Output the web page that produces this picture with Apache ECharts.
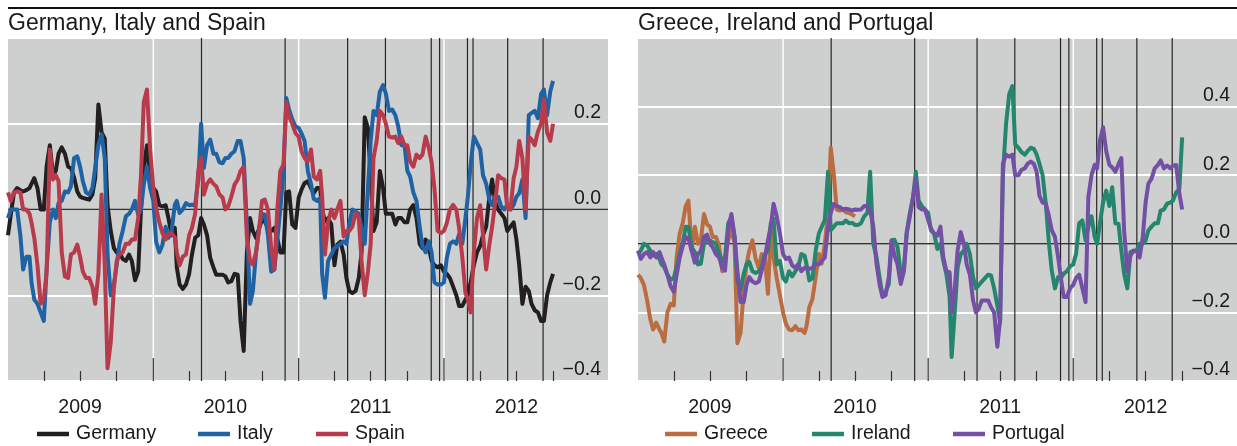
<!DOCTYPE html>
<html><head><meta charset="utf-8">
<script src="https://cdn.jsdelivr.net/npm/echarts@6/dist/echarts.min.js"></script>
<style>html,body{margin:0;padding:0;background:#fff}#c{width:1237px;height:446px}</style>
</head><body><div id="c"></div>
<script>
const dates = [
'2009-01-01','2009-01-08','2009-01-16','2009-01-24','2009-02-01','2009-02-08','2009-02-16','2009-02-24','2009-03-01','2009-03-08','2009-03-16','2009-03-24',
'2009-04-01','2009-04-08','2009-04-16','2009-04-24','2009-05-01','2009-05-08','2009-05-16','2009-05-24','2009-06-01','2009-06-08','2009-06-16','2009-06-24',
'2009-07-01','2009-07-08','2009-07-16','2009-07-24','2009-08-01','2009-08-08','2009-08-16','2009-08-24','2009-09-01','2009-09-08','2009-09-16','2009-09-24',
'2009-10-01','2009-10-08','2009-10-16','2009-10-24','2009-11-01','2009-11-08','2009-11-16','2009-11-24','2009-12-01','2009-12-08','2009-12-16','2009-12-24',
'2010-01-01','2010-01-08','2010-01-16','2010-01-24','2010-02-01','2010-02-08','2010-02-16','2010-02-24','2010-03-01','2010-03-08','2010-03-16','2010-03-24',
'2010-04-01','2010-04-08','2010-04-16','2010-04-24','2010-05-01','2010-05-08','2010-05-16','2010-05-24','2010-06-01','2010-06-08','2010-06-16','2010-06-24',
'2010-07-01','2010-07-08','2010-07-16','2010-07-24','2010-08-01','2010-08-08','2010-08-16','2010-08-24','2010-09-01','2010-09-08','2010-09-16','2010-09-24',
'2010-10-01','2010-10-08','2010-10-16','2010-10-24','2010-11-01','2010-11-08','2010-11-16','2010-11-24','2010-12-01','2010-12-08','2010-12-16','2010-12-24',
'2011-01-01','2011-01-08','2011-01-16','2011-01-24','2011-02-01','2011-02-08','2011-02-16','2011-02-24','2011-03-01','2011-03-08','2011-03-16','2011-03-24',
'2011-04-01','2011-04-08','2011-04-16','2011-04-24','2011-05-01','2011-05-08','2011-05-16','2011-05-24','2011-06-01','2011-06-08','2011-06-16','2011-06-24',
'2011-07-01','2011-07-08','2011-07-16','2011-07-24','2011-08-01','2011-08-08','2011-08-16','2011-08-24','2011-09-01','2011-09-08','2011-09-16','2011-09-24',
'2011-10-01','2011-10-08','2011-10-16','2011-10-24','2011-11-01','2011-11-08','2011-11-16','2011-11-24','2011-12-01','2011-12-08','2011-12-16','2011-12-24',
'2012-01-01','2012-01-08','2012-01-16','2012-01-24','2012-02-01','2012-02-08','2012-02-16','2012-02-24','2012-03-01','2012-03-08','2012-03-16','2012-03-24',
'2012-04-01','2012-04-08','2012-04-16','2012-04-24','2012-05-01','2012-05-08','2012-05-16','2012-05-24','2012-06-01','2012-06-08','2012-06-16','2012-06-24',
'2012-07-01','2012-07-08','2012-07-16','2012-07-24','2012-08-01','2012-08-08','2012-08-16','2012-08-24','2012-09-01','2012-09-08','2012-09-16','2012-09-24',
'2012-10-01'];

const germany = [
-0.06,-0.012,0.04,0.05, 0.045,0.042,0.045,0.05, 0.06,0.073,0.05,0.0, 0.0,0.1,0.15,0.08, 0.09,0.13,0.145,0.13, 0.10,0.097,0.075,0.042,
0.03,0.027,0.025,0.023, 0.035,0.073,0.245,0.18, 0.165,0.01,-0.05,-0.09, -0.1,-0.1,-0.115,-0.12, -0.105,-0.12,-0.165,-0.145, 0.0,0.1,0.15,0.073,
0.05,0.042,0.01,0.007, 0.01,-0.02,-0.06,-0.043, -0.135,-0.175,-0.185,-0.175, -0.15,-0.105,-0.066,-0.06, -0.02,-0.035,-0.06,-0.113, -0.135,-0.152,-0.152,-0.152,
-0.156,-0.17,-0.167,-0.15, -0.152,-0.26,-0.33,-0.1, -0.02,-0.05,-0.066,-0.043, -0.024,-0.028,-0.043,-0.05, -0.043,-0.066,-0.1,-0.1, 0.04,0.042,-0.035,-0.043,
0.027,0.046,0.062,0.066, 0.05,0.038,0.05,0.05, 0.0,-0.028,-0.02,-0.035, -0.13,-0.082,-0.075,-0.105, -0.16,-0.19,-0.195,-0.19, -0.16,-0.1,0.215,0.19,
0.075,-0.05,-0.03,0.09, 0.05,-0.01,-0.01,-0.01, -0.035,-0.02,-0.02,-0.03, -0.03,0.0,0.01,-0.02, -0.08,-0.09,-0.07,-0.09, -0.12,-0.13,-0.135,-0.13,
-0.145,-0.15,-0.16,-0.18, -0.2,-0.225,-0.225,-0.21, -0.2,-0.17,-0.13,-0.1, -0.085,-0.06,-0.04,0.03, 0.07,0.02,0.0,-0.01, -0.02,-0.05,-0.04,-0.03,
-0.07,-0.13,-0.22,-0.18, -0.19,-0.22,-0.235,-0.24, -0.26,-0.26,-0.2,-0.17,
-0.15];
const italy = [
-0.02,0.0,0.0,0.0, -0.06,-0.14,-0.11,-0.11, -0.17,-0.21,-0.22,-0.24, -0.26,-0.14,-0.03,0.0, -0.02,0.015,0.02,0.042, 0.04,0.054,0.12,0.124,
0.1,0.066,0.04,0.035, 0.05,0.097,0.15,0.175, 0.12,-0.105,-0.2,-0.175, -0.13,-0.08,-0.05,-0.016, -0.01,0.0,0.02,-0.012, 0.0,0.058,0.1,0.05,
0.02,-0.075,-0.1,-0.082, -0.04,-0.066,-0.05,0.011, 0.02,-0.008,0.0,0.015, 0.01,0.011,0.01,0.07, 0.2,0.097,0.15,0.163, 0.13,0.13,0.11,0.108,
0.12,0.12,0.13,0.136, 0.16,0.16,0.12,-0.035, -0.22,-0.19,-0.1,-0.043, -0.01,-0.012,-0.06,-0.145, -0.14,-0.074,0.0,0.09, 0.26,0.233,0.21,0.194,
0.19,0.178,0.16,0.09, 0.06,0.025,0.02,0.027, -0.15,-0.206,-0.12,-0.105, -0.09,-0.086,-0.08,-0.074, -0.08,-0.035,0.0,-0.004, -0.01,-0.043,-0.08,0.05,
0.16,0.23,0.22,0.275, 0.29,0.27,0.23,0.233, 0.22,0.194,0.15,0.15, 0.09,0.077,0.04,0.02, -0.04,-0.086,-0.1,-0.074, -0.1,-0.17,-0.175,-0.175,
-0.17,-0.113,-0.08,-0.074, -0.08,-0.058,-0.08,-0.02, 0.03,0.105,0.17,0.155, 0.14,0.08,0.06,0.023, 0.01,0.03,0.03,0.007, 0.0,0.011,0.0,0.011,
0.03,0.038,0.07,-0.02, 0.22,0.225,0.23,0.213, 0.27,0.28,0.22,0.275,
0.3];
const spain = [
0.04,0.02,0.04,0.042, 0.04,0.0,0.0,-0.01, -0.03,-0.066,-0.13,-0.22, -0.21,-0.145,0.14,0.07, 0.08,0.066,-0.1,-0.156, -0.16,-0.105,-0.1,-0.082,
-0.11,-0.145,-0.16,-0.16, -0.18,-0.22,-0.15,0.035, -0.13,-0.37,-0.31,-0.183, -0.12,-0.105,-0.1,-0.08, -0.08,-0.07,-0.07,-0.02, 0.08,0.25,0.28,0.14,
0.05,0.004,-0.03,-0.055, -0.07,-0.058,-0.055,-0.065, -0.1,-0.13,-0.11,-0.105, -0.06,-0.043,-0.01,0.09, 0.12,0.035,0.06,0.07, 0.06,0.054,0.035,0.028,
0.0,0.007,0.03,0.058, 0.07,0.09,0.1,-0.066, -0.12,-0.128,-0.1,-0.043, 0.02,0.023,0.0,-0.09, -0.14,-0.004,0.09,0.105, 0.25,0.217,0.2,0.178,
0.17,0.136,0.12,0.112, 0.14,0.077,0.07,0.09, 0.03,-0.105,-0.03,0.0, -0.02,0.0,0.02,-0.063, -0.05,-0.05,-0.04,-0.008, -0.02,-0.12,-0.2,-0.145,
-0.08,0.12,0.16,0.23, 0.22,0.2,0.17,0.168, 0.17,0.155,0.17,0.15, 0.15,0.112,0.1,0.128, 0.12,0.128,0.17,0.143, 0.11,0.05,-0.05,-0.055,
-0.05,-0.032,0.0,0.011, 0.0,-0.043,-0.11,-0.195, -0.21,-0.24,-0.1,-0.02, 0.01,-0.058,-0.14,-0.082, -0.04,0.011,0.08,0.073, 0.07,0.003,0.0,0.073,
0.1,0.16,0.12,0.0, 0.17,0.163,0.15,0.182, 0.2,0.256,0.18,0.16,
0.2];
const greece = [
-0.09,-0.1,-0.12,-0.165, -0.22,-0.25,-0.23,-0.25, -0.26,-0.285,-0.2,-0.175, -0.18,-0.04,0.03,0.063, 0.11,0.126,-0.02,0.05, 0.0,0.01,0.087,0.056,
0.05,0.02,0.02,-0.005, -0.08,-0.04,0.01,0.044, 0.0,-0.29,-0.26,-0.136, -0.06,-0.02,0.01,-0.044, -0.07,-0.03,-0.04,-0.146, 0.04,-0.04,-0.1,-0.15,
-0.2,-0.233,-0.25,-0.252, -0.24,-0.252,-0.25,-0.26, -0.24,-0.185,-0.16,-0.097, -0.03,-0.058,0.0,0.087, 0.28,0.21,0.1,0.097, 0.1,0.092,0.09,0.085,
0.08,null,null,null, null,null,null,null, null,null,null,null, null,null,null,null, null,null,null,null, null,null,null,null,
null,null,null,null, null,null,null,null, null,null,null,null, null,null,null,null, null,null,null,null, null,null,null,null,
null,null,null,null, null,null,null,null, null,null,null,null, null,null,null,null, null,null,null,null, null,null,null,null,
null,null,null,null, null,null,null,null, null,null,null,null, null,null,null,null, null,null,null,null, null,null,null,null,
null,null,null,null, null,null,null,null, null,null,null,null,
null];
const ireland = [
-0.03,-0.02,0.0,-0.005, -0.02,-0.034,-0.03,-0.044, -0.06,-0.068,-0.09,-0.105, -0.1,-0.068,-0.03,0.005, 0.05,0.049,-0.01,-0.024, -0.06,-0.058,0.0,0.015,
0.01,0.005,0.0,-0.03, -0.05,-0.04,0.06,0.078, 0.02,-0.107,-0.135,-0.087, -0.06,-0.053,-0.08,-0.085, -0.08,-0.068,-0.03,-0.02, 0.06,0.073,-0.06,-0.05,
-0.1,-0.11,-0.08,-0.095, -0.08,-0.068,-0.03,-0.034, -0.06,-0.107,-0.1,-0.02, 0.03,0.049,0.07,0.21, 0.04,0.049,0.06,0.06, 0.06,0.068,0.06,0.061,
0.055,0.055,0.06,0.08, 0.09,0.21,0.0,-0.039, -0.1,-0.15,-0.14,-0.117, 0.01,0.012,-0.01,-0.087, -0.07,0.034,0.09,0.136, 0.21,0.126,0.11,0.1,
0.09,0.039,0.03,-0.015, 0.0,-0.049,-0.09,-0.155, -0.33,-0.214,-0.07,-0.03, -0.02,0.0,-0.03,-0.097, -0.13,-0.121,-0.11,-0.1, -0.09,-0.092,-0.13,-0.18,
-0.23,0.2,0.35,0.437, 0.46,0.29,0.28,0.267, 0.26,0.27,0.28,0.277, 0.26,0.233,0.2,0.117, 0.0,-0.078,-0.13,-0.097, -0.1,-0.087,-0.08,-0.066,
-0.06,-0.03,0.06,0.068, 0.01,0.049,0.08,0.02, 0.0,0.058,0.12,0.155, 0.11,0.165,0.06,0.058, -0.02,-0.087,-0.13,-0.024, -0.02,-0.02,0.0,0.0,
0.01,0.039,0.05,0.06, 0.06,0.097,0.1,0.117, 0.12,0.126,0.15,0.16,
0.31];
const portugal = [
-0.02,-0.044,-0.03,-0.024, -0.04,-0.024,-0.04,-0.024, -0.04,-0.06,-0.09,-0.124, -0.14,-0.092,-0.04,-0.005, 0.02,0.015,-0.02,-0.055, -0.03,-0.02,0.02,0.027,
0.0,-0.01,-0.03,-0.04, -0.07,-0.078,0.04,0.087, 0.02,-0.078,-0.17,-0.17, -0.12,-0.097,-0.11,-0.115, -0.11,-0.078,-0.04,0.01, 0.05,0.117,0.08,0.03,
-0.03,-0.044,-0.04,-0.063, -0.07,-0.06,-0.08,-0.07, -0.07,-0.073,-0.07,-0.058, -0.06,-0.05,-0.04,0.047, 0.09,0.116,0.11,0.107, 0.1,0.102,0.1,0.097,
0.1,0.099,0.1,0.11, 0.11,0.097,0.05,-0.058, -0.12,-0.155,-0.15,-0.097, 0.01,-0.034,-0.06,-0.117, -0.08,0.029,0.08,0.136, 0.19,0.107,0.1,0.1,
0.07,0.044,0.03,0.024, 0.05,-0.039,-0.08,-0.083, -0.2,-0.146,-0.02,0.034, 0.0,-0.06,-0.09,-0.165, -0.2,-0.19,-0.165,-0.165, -0.165,-0.184,-0.2,-0.3,
-0.22,0.233,0.26,0.254, 0.26,0.2,0.2,0.216, 0.22,0.233,0.24,0.233, 0.21,0.14,0.12,0.117, 0.08,0.04,0.02,-0.039, -0.1,-0.155,-0.155,-0.13,
-0.12,-0.1,-0.09,-0.13, -0.17,0.136,0.2,0.23, 0.22,0.3,0.34,0.27, 0.23,0.223,0.21,0.233, 0.25,0.039,-0.08,-0.034, -0.02,-0.02,-0.04,0.02,
0.12,0.175,0.19,0.22, 0.23,0.243,0.22,0.228, 0.22,0.228,0.23,0.146,
0.1];

const events = ['2010-05-02','2010-11-28','2011-05-04','2011-08-07','2011-11-30','2011-12-21','2012-02-29','2012-03-14','2012-06-09','2012-09-06'];
const yearStarts = ['2010-01-01','2011-01-01','2012-01-01'];
const quarterTicks = ['2009-04-01','2009-07-01','2009-10-01','2010-04-01','2010-07-01','2010-10-01',
  '2011-04-01','2011-07-01','2011-10-01','2012-04-01','2012-07-01','2012-10-01'];
const yearLabelPos = ['2009-07-01','2010-07-01','2011-07-01','2012-07-01'];
const axisRange = ['2009-01-01', '2013-02-16'];
const titles = ['Germany, Italy and Spain', 'Greece, Ireland and Portugal'];
const yMax = [0.4, 0.6];

const ts = d => new Date(d + 'T00:00:00Z').getTime();
const FONT = 'Liberation Sans, Arial, sans-serif';
const TXT = '#1a1a1a';
const panels = [
  {grid: {left: 8, top: 38, width: 600, height: 343},
   series: [['Germany', germany, '#231f20'], ['Italy', italy, '#2063a5'], ['Spain', spain, '#b73b4b']],
   legendLeft: [32, 193, 311]},
  {grid: {left: 638, top: 38, width: 599, height: 343},
   series: [['Greece', greece, '#bb6d42'], ['Ireland', ireland, '#24866c'], ['Portugal', portugal, '#7350a5']],
   legendLeft: [660, 807, 948]}
];

const YEAR_TICK = 23;
function deco(params, api) {
  const cs = params.coordSys;
  const kind = api.value(1);
  if (kind === 2) {
    const y = api.coord([api.value(0), 0])[1];
    return {type: 'line', shape: {x1: cs.x, y1: y, x2: cs.x + cs.width, y2: y},
      style: {stroke: '#333', lineWidth: 1.5}};
  }
  const x = api.coord([api.value(0), 0])[0];
  const bottom = cs.y + cs.height;
  if (kind === 0) {
    return {type: 'group', children: [
      {type: 'line', shape: {x1: x, y1: cs.y, x2: x, y2: bottom}, style: {stroke: '#ffffff', lineWidth: 1.5}},
      {type: 'line', shape: {x1: x, y1: bottom - YEAR_TICK, x2: x, y2: bottom}, style: {stroke: '#333', lineWidth: 1.2}}
    ]};
  }
  return {type: 'line', shape: {x1: x, y1: cs.y, x2: x, y2: bottom}, style: {stroke: '#262626', lineWidth: 1.2}};
}

const option = {animation: false, backgroundColor: '#fff',
  title: [], grid: [], xAxis: [], yAxis: [], series: [], legend: [],
  graphic: [{type: 'line', shape: {x1: 8, y1: 8, x2: 1237, y2: 8}, style: {stroke: '#111', lineWidth: 2}}]};

panels.forEach((p, i) => {
  option.title.push({text: titles[i], left: p.grid.left, top: 12, padding: 0,
    textStyle: {fontFamily: FONT, fontSize: 23, fontWeight: 'normal', color: TXT}});
  option.grid.push(Object.assign({show: true, backgroundColor: '#cecfcf', borderWidth: 0}, p.grid));
  const xBase = {type: 'value', gridIndex: i, position: 'bottom', min: ts(axisRange[0]), max: ts(axisRange[1]), z: 3,
    axisLine: {show: false}, splitLine: {show: false}};
  option.xAxis.push(Object.assign({}, xBase, {axisTick: {show: false},
    axisLabel: {customValues: yearLabelPos.map(ts), margin: 17, fontFamily: FONT, fontSize: 19.5, color: TXT,
      formatter: v => String(new Date(v).getUTCFullYear())}}));
  option.xAxis.push(Object.assign({}, xBase, {axisLabel: {show: false},
    axisTick: {show: true, inside: true, length: 10, customValues: quarterTicks.map(ts), lineStyle: {color: '#333', width: 1.2}}}));
  option.yAxis.push({type: 'value', gridIndex: i, position: 'right', min: -0.4, max: yMax[i], interval: 0.2,
    axisLine: {show: false}, axisTick: {show: false},
    splitLine: {show: true, lineStyle: {color: '#ffffff', width: 2}},
    axisLabel: {inside: true, margin: 7, showMaxLabel: false, verticalAlign: 'bottom', padding: [0, 0, 1, 0],
      fontFamily: FONT, fontSize: 19.5, color: TXT,
      formatter: v => (v < -1e-9 ? '\u2212' : '') + Math.abs(v).toFixed(1)}});
  const decoData = yearStarts.map(d => [ts(d), 0]).concat(events.map(d => [ts(d), 1])).concat([[ts(dates[0]), 2]]);
  option.series.push({type: 'custom', xAxisIndex: 2 * i, yAxisIndex: i, z: 1, silent: true,
    renderItem: deco, data: decoData, encode: {x: 0, y: 1}});
  p.series.forEach(([name, vals, color], k) => {
    option.series.push({name, type: 'line', xAxisIndex: 2 * i, yAxisIndex: i, z: 2,
      showSymbol: false, symbol: 'none', connectNulls: false, color,
      lineStyle: {width: 4, color, join: 'round'},
      data: dates.map((d, j) => [ts(d), vals[j]])});
    option.legend.push({data: [name], left: p.legendLeft[k], top: 419, icon: 'rect',
      itemWidth: 32, itemHeight: 4.5, selectedMode: false,
      textStyle: {fontFamily: FONT, fontSize: 19.5, color: TXT, padding: [0, 0, 0, 2]}});
  });
});

const chart = echarts.init(document.getElementById('c'), null, {renderer: 'canvas'});
chart.setOption(option);
</script></body></html>
